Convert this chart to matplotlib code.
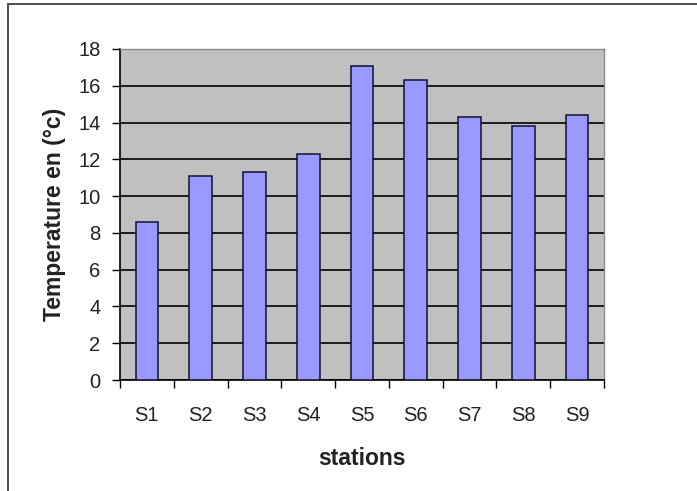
import matplotlib
matplotlib.use('Agg')

import matplotlib.pyplot as plt
from matplotlib.patches import Rectangle
import numpy as np

plt.rcParams["font.family"] = ["Liberation Sans", "DejaVu Sans"]

# Température moyenne par station
stations = ["S1", "S2", "S3", "S4", "S5", "S6", "S7", "S8", "S9"]
temperatures = [8.6, 11.1, 11.3, 12.3, 17.1, 16.3, 14.3, 13.8, 14.4]
y_ticks = [0, 2, 4, 6, 8, 10, 12, 14, 16, 18]

fig = plt.figure(figsize=(6.97, 4.91), dpi=100)
fig.patch.set_facecolor("white")

# cadre extérieur du graphique
fig.patches.append(Rectangle((8 / 697, -0.1), 1.1, 1.1 - 4 / 491, transform=fig.transFigure,
                             fill=False, edgecolor="#404040", linewidth=1.3))

ax = fig.add_axes([120 / 697, 111 / 491, 484 / 697, 331 / 491])
ax.set_facecolor("#C0C0C0")

x = np.arange(len(stations))
ax.bar(x, temperatures, width=0.42, color="#9999FF", edgecolor="#101030",
       linewidth=1.1, zorder=3)

ax.set_ylim(0, 18)
ax.set_xlim(-0.5, len(stations) - 0.5)
ax.set_yticks(y_ticks)
ax.yaxis.grid(True, color="black", linewidth=1.2, zorder=1)
ax.set_axisbelow(True)

# graduations de l'axe X entre les catégories
ax.set_xticks(x)
ax.set_xticklabels(stations)
ax.set_xticks(np.arange(len(stations) + 1) - 0.5, minor=True)
ax.tick_params(axis="x", which="major", length=0, pad=18.5, labelsize=14.5, labelcolor="#222222")
ax.tick_params(axis="x", which="minor", length=6, width=1, direction="out")
ax.tick_params(axis="y", length=6, width=1, direction="out", pad=8,
               labelsize=14.5, labelcolor="#222222")

for side in ["left", "bottom"]:
    ax.spines[side].set_color("black")
    ax.spines[side].set_linewidth(1.2)
for side in ["top", "right"]:
    ax.spines[side].set_color("#8a8a8a")
    ax.spines[side].set_linewidth(1)

ax.set_ylabel("Temperature en (°c)", fontsize=16.5, fontweight="bold", color="#222222", labelpad=9)
ax.set_xlabel("stations", fontsize=16.5, fontweight="bold", color="#222222", labelpad=16)

plt.savefig("out.png", dpi=100)
plt.close()
